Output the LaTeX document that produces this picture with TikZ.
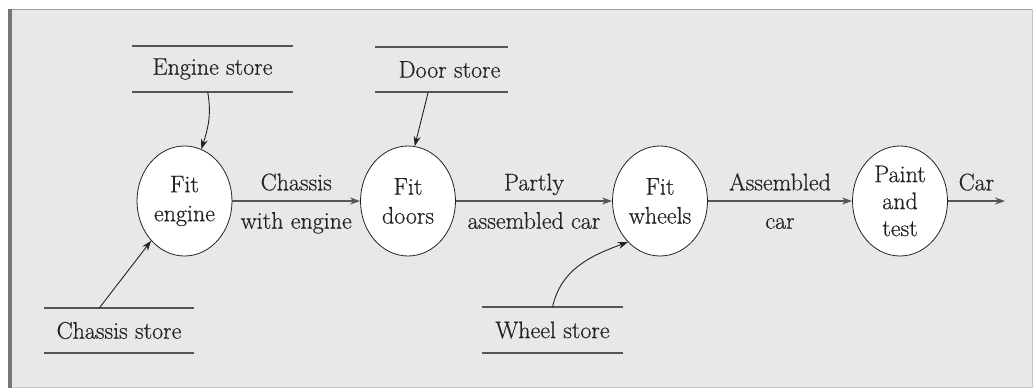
\documentclass[tikz,border=0pt]{standalone}
\usepackage{fontspec}
\setmainfont{Latin Modern Roman}[FakeBold=0.5]
\usetikzlibrary{shapes.geometric,arrows.meta,calc}
\definecolor{panel}{RGB}{231,232,233}
\definecolor{rim}{RGB}{160,160,160}
\definecolor{rimdark}{RGB}{118,118,118}
\definecolor{ink}{RGB}{35,35,35}
\definecolor{flowline}{RGB}{85,85,85}
\begin{document}
\begin{tikzpicture}[x=1pt,y=-1pt,
  every node/.style={font=\fontsize{24}{29}\selectfont, text=ink},
  proc/.style={ellipse, draw=ink, line width=0.8pt, fill=white,
    minimum width=95pt, minimum height=110pt, inner sep=0pt, align=center},
  store/.style={minimum height=45pt, inner sep=0pt},
  storeline/.style={draw=flowline, line width=1.8pt},
  flow/.style={draw=flowline, line width=1.4pt, -{Stealth[length=10pt,width=7pt]}},
  feed/.style={draw=ink, line width=0.9pt, -{Stealth[length=10pt,width=7pt]}},
  toplbl/.style={midway, above=8pt, inner sep=2pt, text depth=0pt},
  botlbl/.style={midway, below=8pt, inner sep=2pt, text height=17pt}]

\useasboundingbox (0,0) rectangle (1035,390);

% framed panel
\fill[white] (0,0) rectangle (1035,390);
\fill[panel] (9,9) rectangle (1033,388);
\draw[rim, line width=1.2pt] (9,9.6) -- (1033,9.6);
\draw[rim!60, line width=0.8pt] (9,387.6) -- (1033,387.6) (1032.6,9) -- (1032.6,388);
\fill[rimdark] (8,9) rectangle (12,388);

% processes
\node[proc] (fe) at (184.5,201) {Fit\\engine};
\node[proc] (fd) at (408,201) {Fit\\doors};
\node[proc] (fw) at (660,201) {Fit\\wheels};
\node[proc, font=\fontsize{24}{27}\selectfont] (pt) at (900,201) {Paint\\and\\test};
\coordinate (carout) at (1005,201);

% stores
\node[store, minimum width=161pt] (es) at (212.5,69) {Engine store};
\node[store, minimum width=150pt] (cs) at (119,330.5) {Chassis store};
\node[store, minimum width=133pt] (ds) at (441.5,69.5) {\hspace*{16pt}Door store};
\node[store, minimum width=141pt] (ws) at (552.5,330) {Wheel store};
\foreach \s in {es,cs,ds,ws}
  \draw[storeline] (\s.north west) -- (\s.north east) (\s.south west) -- (\s.south east);

% store feeds
\draw[feed] ($(es.south west)!0.47!(es.south east)$) to[out=-80,in=72] (fe.72);
\draw[feed] ($(cs.north west)!0.37!(cs.north east)$) -- (fe.230);
\draw[feed] ($(ds.south west)!0.4!(ds.south east)$) -- (fd.83);
\draw[feed] (ws.north) to[out=78,in=200] (fw.232);

% main flow
\draw[flow] (fe) -- node[toplbl]{Chassis} node[botlbl]{with engine} (fd);
\draw[flow] (fd) -- node[toplbl]{Partly} node[botlbl]{assembled car} (fw);
\draw[flow] (fw) -- node[toplbl]{Assembled} node[botlbl]{car} (pt);
\draw[flow] (pt) -- node[toplbl]{Car} (carout);
\end{tikzpicture}
\end{document}
